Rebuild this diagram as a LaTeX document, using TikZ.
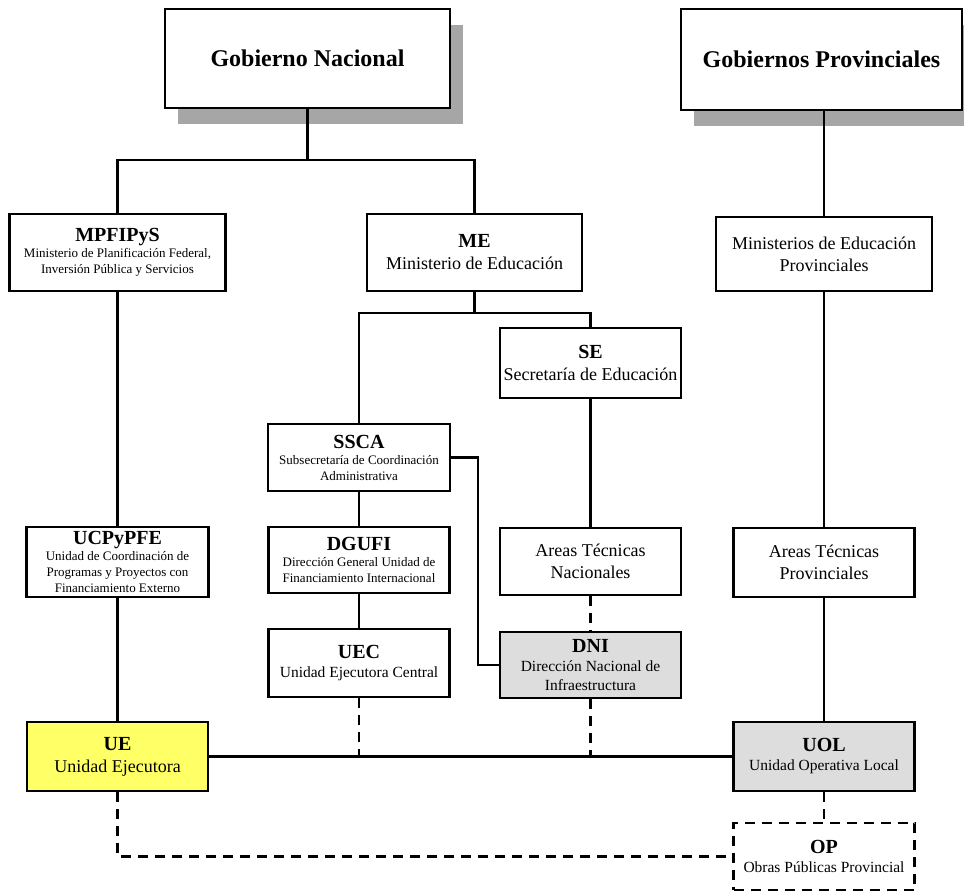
\documentclass[tikz,border=0pt]{standalone}
\usepackage{fontspec}
\setmainfont{Liberation Serif}
\usetikzlibrary{shadows}
\definecolor{shadowgray}{HTML}{A6A6A6}
\definecolor{uefill}{HTML}{FFFF66}
\definecolor{localfill}{HTML}{DDDDDD}
\newcommand{\unithead}[1]{{\fontsize{20}{22}\selectfont\bfseries #1}}

\begin{document}
\begin{tikzpicture}[x=1pt,y=-1pt,
    unit/.style={draw,fill=white,line width=2.2pt,align=center,inner sep=0pt},
    govunit/.style={unit,
      drop shadow={shadow xshift=13pt,shadow yshift=-16pt,fill=shadowgray,opacity=1},
      font=\fontsize{24}{28}\selectfont\bfseries},
    big/.style={font=\fontsize{18}{22}\selectfont},
    mid/.style={font=\fontsize{15.5}{19}\selectfont},
    small/.style={font=\fontsize{13}{16}\selectfont},
    link/.style={line width=2.2pt},
    dlink/.style={link,dash pattern=on 10pt off 7pt}]
    \useasboundingbox (0,0) rectangle (964,892);
    % governments
    \node[govunit,minimum width=285pt,minimum height=99pt] (gn) at (307.5,58.5) {Gobierno Nacional};
    \node[govunit,minimum width=281pt,minimum height=101pt] (gp) at (821.5,59.5) {Gobiernos Provinciales};
    % ministries
    \node[unit,small,minimum width=216pt,minimum height=77pt] (mpf) at (117.5,252.5)
      {\unithead{MPFIPyS}\\Ministerio de Planificación Federal,\\Inversión Pública y Servicios};
    \node[unit,big,minimum width=215pt,minimum height=77pt] (me) at (474.5,252.5)
      {\unithead{ME}\\Ministerio de Educación};
    \node[unit,big,minimum width=216pt,minimum height=74pt] (mep) at (824,254)
      {Ministerios de Educación\\Provinciales};
    % secretariats
    \node[unit,big,minimum width=181pt,minimum height=70pt] (se) at (590.5,363)
      {\unithead{SE}\\Secretaría de Educación};
    \node[unit,small,minimum width=182pt,minimum height=67pt] (ssca) at (359,457.5)
      {\unithead{SSCA}\\Subsecretaría de Coordinación\\Administrativa};
    % row of areas
    \node[unit,small,minimum width=182pt,minimum height=70pt] (ucp) at (117.5,562)
      {\unithead{UCPyPFE}\\Unidad de Coordinación de\\Programas y Proyectos con\\Financiamiento Externo};
    \node[unit,small,minimum width=181pt,minimum height=66pt] (dgufi) at (359,560)
      {\unithead{DGUFI}\\Dirección General Unidad de\\Financiamiento Internacional};
    \node[unit,big,minimum width=181pt,minimum height=67pt] (atn) at (590.5,561.5)
      {Areas Técnicas\\Nacionales};
    \node[unit,big,minimum width=181pt,minimum height=69pt] (atp) at (824,562.5)
      {Areas Técnicas\\Provinciales};
    % executing units
    \node[unit,mid,minimum width=181pt,minimum height=68pt] (uec) at (359,663)
      {\unithead{UEC}\\Unidad Ejecutora Central};
    \node[unit,mid,fill=localfill,minimum width=181pt,minimum height=66pt] (dni) at (590.5,665)
      {\unithead{DNI}\\Dirección Nacional de\\Infraestructura};
    \node[unit,big,fill=uefill,minimum width=181pt,minimum height=69pt] (ue) at (117.5,756.5)
      {\unithead{UE}\\Unidad Ejecutora};
    \node[unit,mid,fill=localfill,minimum width=181pt,minimum height=69pt] (uol) at (824,756.5)
      {\unithead{UOL}\\Unidad Operativa Local};
    \node[unit,mid,dash pattern=on 10pt off 7pt,minimum width=181pt,minimum height=67pt] (op) at (824,856.5)
      {\unithead{OP}\\Obras Públicas Provincial};
    % connectors
    \coordinate (gnjoin) at (307.5,160);
    \coordinate (mejoin) at (474.5,313);
    \draw[link] (gn.south) -- (gnjoin);
    \draw[link] (mpf.north) |- (gnjoin) -| (me.north);
    \draw[link] (mep.north |- gp.south) -- (mep.north);
    \draw[link] (me.south) -- (mejoin);
    \draw[link] (ssca.north) |- (mejoin) -| (se.north);
    \draw[link] (mpf.south) -- (ucp.north);
    \draw[link] (ucp.south) -- (ue.north);
    \draw[link] (ssca.south) -- (dgufi.north);
    \draw[link] (dgufi.south) -- (uec.north);
    \draw[link] (ssca.east) -- ++(27,0) |- (dni.west);
    \draw[link] (se.south) -- (atn.north);
    \draw[link] (mep.south) -- (atp.north);
    \draw[link] (atp.south) -- (uol.north);
    \draw[link] (ue.east) -- (uol.west);
    \draw[dlink] (atn.south) -- (dni.north);
    \draw[dlink] (uec.south) -- (uec.south |- ue.east);
    \draw[dlink] (dni.south) -- (dni.south |- ue.east);
    \draw[dlink] (uol.south) -- (op.north);
    \draw[dlink] (ue.south) |- (op.west);
\end{tikzpicture}
\end{document}
